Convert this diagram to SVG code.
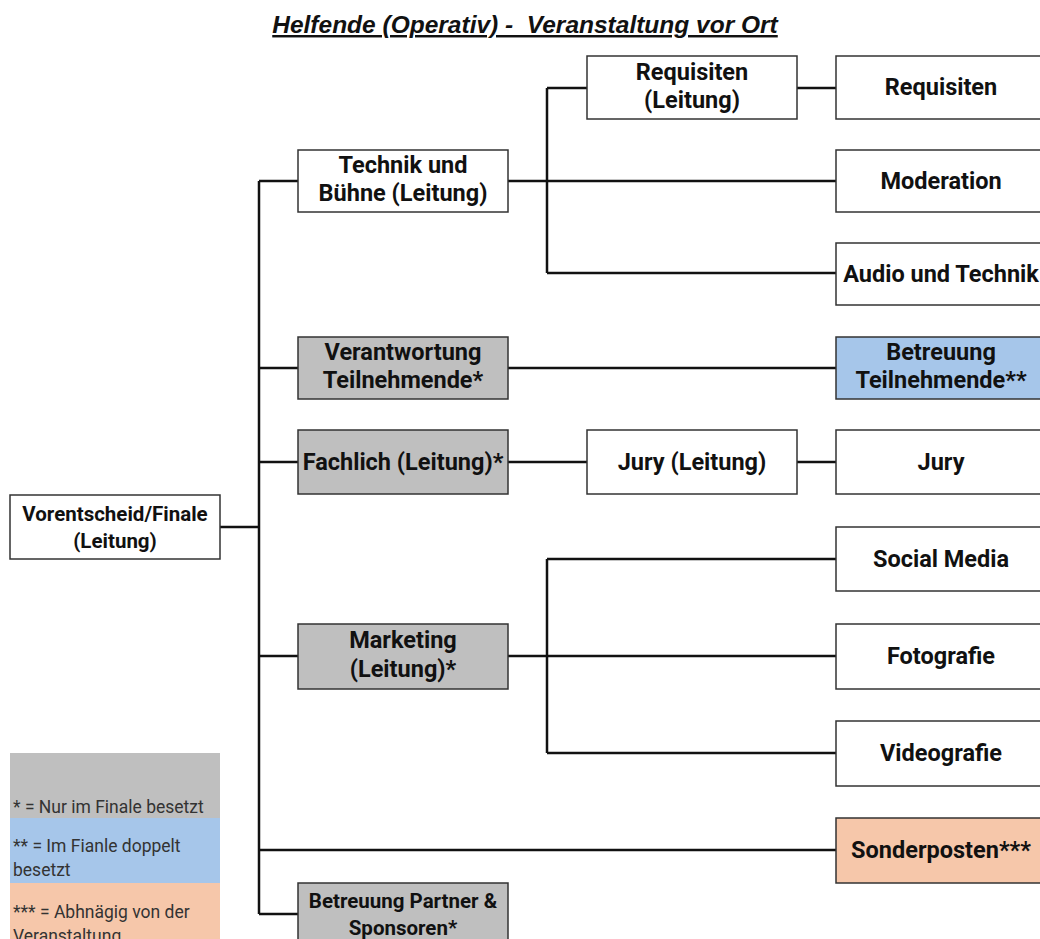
<svg xmlns="http://www.w3.org/2000/svg" width="1040" height="939" viewBox="0 0 1040 939">
<style>
.box{stroke:#333;stroke-width:1.5}
.w{fill:#fff}.g{fill:#bfbfbf}.b{fill:#a6c6ea}.p{fill:#f6c7aa}
.t{font-family:Roboto,"Liberation Sans",sans-serif;font-weight:bold;font-size:23.5px;fill:#111;text-anchor:middle}
.rt{font-size:20.5px}
.c{stroke:#111;stroke-width:2.5;fill:none}
.lg{font-family:Roboto,"Liberation Sans",sans-serif;font-size:17.5px;fill:#333}
.title{font-family:"Liberation Sans",Arial,sans-serif;font-weight:bold;font-style:italic;font-size:24.5px;fill:#111;text-anchor:middle;text-decoration:underline;white-space:pre}
</style>
<rect width="1040" height="939" fill="#fff"/>
<text class="title" x="525" y="33" xml:space="preserve">Helfende (Operativ) -  Veranstaltung vor Ort</text>

<g id="legend">
<rect x="10" y="753" width="210" height="65" fill="#bfbfbf"/>
<rect x="10" y="818" width="210" height="65" fill="#a6c6ea"/>
<rect x="10" y="883" width="210" height="60" fill="#f6c7aa"/>
<text class="lg" x="13" y="813">* = Nur im Finale besetzt</text>
<text class="lg" x="13" y="852">** = Im Fianle doppelt</text>
<text class="lg" x="13" y="876">besetzt</text>
<text class="lg" x="13" y="918">*** = Abhnägig von der</text>
<text class="lg" x="13" y="942">Veranstaltung</text>
</g>

<g id="connectors">
<path class="c" d="M220 527H259M259 181V914M259 181H298M259 368H298M259 462H298M259 656H298M259 850H836M259 914H298"/>
<path class="c" d="M508 181H836M547 88V273M547 88H587M547 273H836M797 88H836"/>
<path class="c" d="M508 368H836"/>
<path class="c" d="M508 462H587M797 462H836"/>
<path class="c" d="M508 656H836M547 559V753M547 559H836M547 753H836"/>
</g>

<g id="root"><rect class="box w" x="10" y="495" width="210" height="64"/>
<text class="t rt" x="115" y="521">Vorentscheid/Finale</text><text class="t rt" x="115" y="548">(Leitung)</text></g>

<g id="technik"><rect class="box w" x="298" y="150" width="210" height="62"/>
<text class="t" x="403" y="173">Technik und</text><text class="t" x="403" y="201">Bühne (Leitung)</text></g>

<g id="verantwortung"><rect class="box g" x="298" y="337" width="210" height="62"/>
<text class="t" x="403" y="360">Verantwortung</text><text class="t" x="403" y="388">Teilnehmende*</text></g>

<g id="fachlich"><rect class="box g" x="298" y="430" width="210" height="64"/>
<text class="t" x="403" y="470">Fachlich (Leitung)*</text></g>

<g id="marketing"><rect class="box g" x="298" y="624" width="210" height="65"/>
<text class="t" x="403" y="648">Marketing</text><text class="t" x="403" y="677">(Leitung)*</text></g>

<g id="partner"><rect class="box g" x="298" y="883" width="210" height="64"/>
<text class="t rt" x="403" y="908">Betreuung Partner &amp;</text><text class="t rt" x="403" y="935">Sponsoren*</text></g>

<g id="requisiten-leitung"><rect class="box w" x="587" y="56" width="210" height="63"/>
<text class="t" x="692" y="80">Requisiten</text><text class="t" x="692" y="108">(Leitung)</text></g>

<g id="jury-leitung"><rect class="box w" x="587" y="430" width="210" height="64"/>
<text class="t" x="692" y="470">Jury (Leitung)</text></g>

<g id="requisiten"><rect class="box w" x="836" y="56" width="212" height="63"/>
<text class="t" x="941" y="95">Requisiten</text></g>

<g id="moderation"><rect class="box w" x="836" y="150" width="212" height="62"/>
<text class="t" x="941" y="189">Moderation</text></g>

<g id="audio"><rect class="box w" x="836" y="243" width="212" height="62"/>
<text class="t" x="941" y="282">Audio und Technik</text></g>

<g id="betreuung-tn"><rect class="box b" x="836" y="337" width="212" height="62"/>
<text class="t" x="941" y="360">Betreuung</text><text class="t" x="941" y="388">Teilnehmende**</text></g>

<g id="jury"><rect class="box w" x="836" y="430" width="212" height="64"/>
<text class="t" x="941" y="470">Jury</text></g>

<g id="social"><rect class="box w" x="836" y="527" width="212" height="64"/>
<text class="t" x="941" y="567">Social Media</text></g>

<g id="fotografie"><rect class="box w" x="836" y="624" width="212" height="65"/>
<text class="t" x="941" y="664">Fotografie</text></g>

<g id="videografie"><rect class="box w" x="836" y="721" width="212" height="65"/>
<text class="t" x="941" y="761">Videografie</text></g>

<g id="sonderposten"><rect class="box p" x="836" y="818" width="212" height="65"/>
<text class="t" x="941" y="858">Sonderposten***</text></g>
</svg>
